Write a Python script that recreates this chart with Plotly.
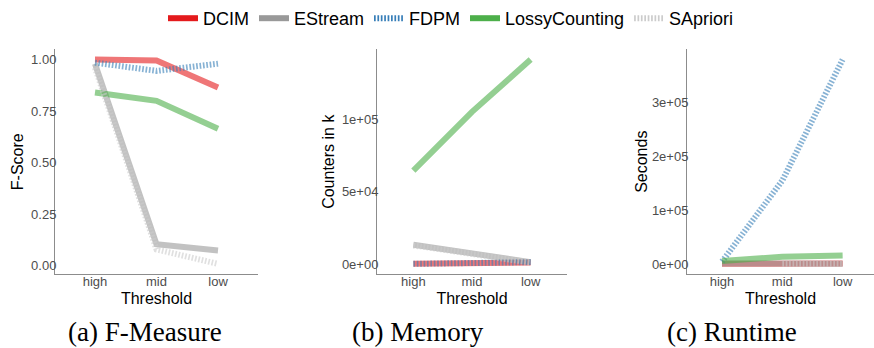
import plotly.graph_objects as go

# ---------------- data ----------------
thresholds = ["high", "mid", "low"]
series_names = ["DCIM", "EStream", "FDPM", "LossyCounting", "SApriori"]

# (a) F-Measure
fscore_dcim = [1.0, 0.995, 0.865]
fscore_estream = [0.98, 0.105, 0.075]
fscore_fdpm = [0.985, 0.945, 0.98]
fscore_lossy = [0.84, 0.80, 0.665]
fscore_sapriori = [0.96, 0.08, 0.01]

# (b) Memory (counters)
memory_dcim = [300, 600, 1200]
memory_estream = [13500, 7000, 1500]
memory_fdpm = [300, 700, 1500]
memory_lossy = [64500, 105000, 141000]
memory_sapriori = [13000, 6800, 1200]

# (c) Runtime (seconds)
runtime_dcim = [1000, 1200, 1300]
runtime_estream = [1500, 1000, 1000]
runtime_fdpm = [5000, 155000, 379000]
runtime_lossy = [6000, 14000, 16500]
runtime_sapriori = [None, 800, 800]

fscore_ticks = [0, 0.25, 0.5, 0.75, 1.0]
fscore_ticktext = ["0.00", "0.25", "0.50", "0.75", "1.00"]
memory_ticks = [0, 50000, 100000]
memory_ticktext = ["0e+00", "5e+04", "1e+05"]
runtime_ticks = [0, 100000, 200000, 300000]
runtime_ticktext = ["0e+00", "1e+05", "2e+05", "3e+05"]

captions = ["(a) F-Measure", "(b) Memory", "(c) Runtime"]
y_titles = ["F-Score", "Counters in k", "Seconds"]
x_title = "Threshold"

# ---------------- style ----------------
W, H = 874, 348
solid_colors = {
    "DCIM": "#e41a1c",
    "EStream": "#999999",
    "FDPM": "#377eb8",
    "LossyCounting": "#4daf4a",
    "SApriori": "#cccccc",
}
line_colors = {
    "DCIM": "rgba(228,26,28,0.6)",
    "EStream": "rgba(153,153,153,0.6)",
    "FDPM": "rgba(55,126,184,0.6)",
    "LossyCounting": "rgba(77,175,74,0.6)",
    "SApriori": "rgba(204,204,204,0.6)",
}
dashes = {
    "DCIM": "solid",
    "EStream": "solid",
    "FDPM": "1.7px,1.7px",
    "LossyCounting": "solid",
    "SApriori": "1.7px,1.7px",
}
SANS = "Liberation Sans, Arial, sans-serif"
SERIF = "Liberation Serif, Times New Roman, serif"

panels = [
    dict(data=[fscore_dcim, fscore_estream, fscore_fdpm, fscore_lossy, fscore_sapriori],
         px=(55, 258), xr=[-0.65, 2.65], ticks=fscore_ticks, ticktext=fscore_ticktext,
         standoff=3, cap_x=145),
    dict(data=[memory_dcim, memory_estream, memory_fdpm, memory_lossy, memory_sapriori],
         px=(377, 567), xr=[-0.62, 2.62], ticks=memory_ticks, ticktext=memory_ticktext,
         standoff=3, cap_x=418),
    dict(data=[runtime_dcim, runtime_estream, runtime_fdpm, runtime_lossy, runtime_sapriori],
         px=(687, 874), xr=[-0.58, 2.52], ticks=runtime_ticks, ticktext=runtime_ticktext,
         standoff=0, cap_x=732),
]

plot_top, plot_bottom = 45, 273
ydom = [(H - plot_bottom) / H, (H - plot_top) / H]

fig = go.Figure()
layout = dict(
    width=W, height=H, autosize=False,
    margin=dict(l=0, r=0, t=0, b=0),
    paper_bgcolor="white", plot_bgcolor="white",
    font=dict(family=SANS, color="black"),
    showlegend=True,
    legend=dict(orientation="h", x=0.516, xanchor="center", y=1.015, yanchor="top",
                font=dict(size=18, family=SANS, color="black"),
                bgcolor="rgba(0,0,0,0)", itemwidth=30, tracegroupgap=0),
    annotations=[],
)

for i, p in enumerate(panels):
    n = "" if i == 0 else str(i + 1)
    xa, ya = "x" + n, "y" + n
    for name, vals in zip(series_names, p["data"]):
        fig.add_trace(go.Scatter(
            x=thresholds, y=vals, mode="lines", xaxis=xa, yaxis=ya,
            line=dict(color=line_colors[name], width=6, dash=dashes[name]),
            showlegend=False, hoverinfo="skip", connectgaps=False))
    allv = [v for s in p["data"] for v in s if v is not None]
    lo, hi = min(allv), max(allv)
    span = hi - lo
    yr = [lo - 0.05 * span, hi + 0.05 * span]
    layout["xaxis" + n] = dict(
        domain=[p["px"][0] / W, p["px"][1] / W], anchor=ya,
        type="category", range=p["xr"], showgrid=False, zeroline=False,
        showline=True, linecolor="#8c8c8c", linewidth=1, ticks="",
        ticklabelstandoff=-5,
        tickfont=dict(size=13, color="#4d4d4d", family=SANS),
        title=dict(text=x_title, font=dict(size=16, color="black", family=SANS), standoff=5),
        automargin=False, fixedrange=True)
    layout["yaxis" + n] = dict(
        domain=ydom, anchor=xa, range=yr, showgrid=False, zeroline=False,
        showline=True, linecolor="#8c8c8c", linewidth=1, ticks="",
        ticklabelstandoff=-5,
        tickvals=p["ticks"], ticktext=p["ticktext"],
        tickfont=dict(size=13, color="#4d4d4d", family=SANS),
        title=dict(text=y_titles[i], font=dict(size=16, color="black", family=SANS),
                   standoff=p["standoff"]),
        automargin=False, fixedrange=True)
    layout["annotations"].append(dict(
        text=captions[i], xref="paper", yref="paper", x=p["cap_x"] / W, y=(H - 332) / H,
        xanchor="center", yanchor="middle", showarrow=False,
        font=dict(size=27, family=SERIF, color="black")))

# legend entries (full-colour swatches like the original)
for name in series_names:
    fig.add_trace(go.Scatter(
        x=[None], y=[None], mode="lines", name=name,
        line=dict(color=solid_colors[name], width=6, dash=dashes[name]),
        hoverinfo="skip"))

fig.update_layout(**layout)
fig.write_html("out.html")
